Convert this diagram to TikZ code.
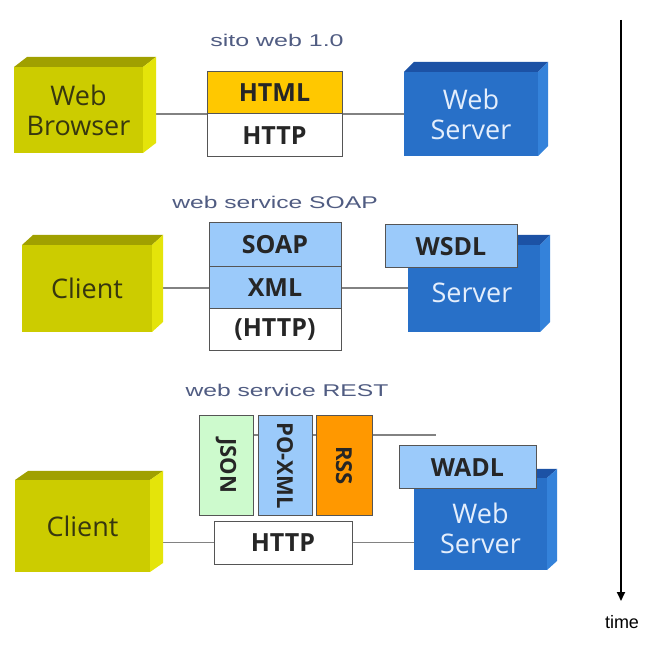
\documentclass[tikz,border=0pt]{standalone}
\usepackage{fontspec}
\usepackage{graphicx}
\newfontfamily\osans{Open Sans}
\newfontfamily\lsans{Liberation Sans}
\usetikzlibrary{arrows.meta,backgrounds}
\definecolor{yfront}{RGB}{204,204,0}
\definecolor{ytop}{RGB}{160,160,0}
\definecolor{yside}{RGB}{228,228,10}
\definecolor{bfront}{RGB}{40,112,200}
\definecolor{btop}{RGB}{28,82,165}
\definecolor{bside}{RGB}{52,130,218}
\definecolor{gold}{RGB}{255,200,0}
\definecolor{lblue}{RGB}{155,202,250}
\definecolor{lgreen}{RGB}{205,250,205}
\definecolor{orng}{RGB}{255,152,0}
\definecolor{edgecol}{RGB}{85,85,85}
\definecolor{conncol}{RGB}{130,130,130}
\definecolor{titlecol}{RGB}{80,92,130}
\definecolor{ytext}{RGB}{55,55,15}
\definecolor{btext}{RGB}{228,238,252}
\tikzset{
  cubefront/.style={inner sep=0, outer sep=0, draw=none, font=\osans\fontsize{27}{30}\selectfont, align=center},
  ycube/.style={cubefront, fill=yfront, text=ytext},
  bcube/.style={cubefront, fill=bfront, text=btext},
  layerbox/.style={draw=edgecol, line width=1pt, inner sep=0, outer sep=0, font=\osans\bfseries\fontsize{25}{28}\selectfont, text=black!85},
  vlayer/.style={layerbox, rotate=-90, font=\osans\bfseries\fontsize{22}{26}\selectfont},
  conn/.style={draw=conncol, line width=1.6pt},
  titletext/.style={font=\lsans\fontsize{17}{20}\selectfont, text=titlecol},
}
\newcommand\cubefaces[5]{%
  \fill[#4] (#1.north west) -- ++(#2,-#3) -- ([shift={(#2,-#3)}]#1.north east) -- (#1.north east) -- cycle;
  \fill[#5] (#1.north east) -- ++(#2,-#3) -- ([shift={(#2,-#3)}]#1.south east) -- (#1.south east) -- cycle;
}
\begin{document}
\begin{tikzpicture}[x=1pt,y=-1pt]
\useasboundingbox (0,0) rectangle (657,647);
\begin{scope}[on background layer]
  \fill[white] (0,0) rectangle (657,647);
\end{scope}

% ---------- row 1 ----------
\node[titletext] (title1) at (277,40) {\scalebox{1.47}[1]{sito web 1.0}};
\node[ycube, minimum width=129, minimum height=86] (wb) at (78.5,110) {Web\\Browser};
\cubefaces{wb}{13}{10}{ytop}{yside}
\node[layerbox, fill=gold, minimum width=135, minimum height=42] (html) at (274.5,93) {HTML};
\node[layerbox, fill=white, minimum width=135, minimum height=43, anchor=north] (http1) at (html.south) {HTTP};
\node[bcube, minimum width=134, minimum height=84] (ws1) at (471,114) {Web\\Server};
\cubefaces{ws1}{10}{10}{btop}{bside}

% ---------- row 2 ----------
\node[titletext] (title2) at (275,202) {\scalebox{1.45}[1]{web service SOAP}};
\node[ycube, minimum width=130, minimum height=87] (cl2) at (87,288.5) {Client};
\cubefaces{cl2}{11}{10}{ytop}{yside}
\node[layerbox, fill=lblue, minimum width=132, minimum height=44] (soap) at (275,245) {SOAP};
\node[layerbox, fill=lblue, minimum width=132, minimum height=42, anchor=north] (xml) at (soap.south) {XML};
\node[layerbox, fill=white, minimum width=132, minimum height=42, anchor=north] (http2) at (xml.south) {(HTTP)};
\node[bcube, minimum width=132, minimum height=87] (sv2) at (474,288.5) {};
\cubefaces{sv2}{10}{10}{btop}{bside}
\node[cubefront, text=btext] (sv2l) at ([xshift=-2,yshift=-4]sv2.center) {Server};
\node[layerbox, fill=lblue, minimum width=132, minimum height=43] (wsdl) at (451,246.5) {WSDL};

% ---------- row 3 ----------
\node[titletext] (title3) at (287,390) {\scalebox{1.45}[1]{web service REST}};
\node[ycube, minimum width=135, minimum height=92] (cl3) at (82.5,526) {Client};
\cubefaces{cl3}{13}{9}{ytop}{yside}
\node[vlayer, fill=lgreen, minimum width=99, minimum height=54] (json) at (226,465.5) {JSON};
\node[vlayer, fill=lblue, minimum width=99, minimum height=54] (poxml) at (285,465.5) {PO-XML};
\node[vlayer, fill=orng, minimum width=99, minimum height=56] (rss) at (344,465.5) {RSS};
\node[layerbox, fill=white, minimum width=138, minimum height=43] (http3) at (283,542.5) {HTTP};
\node[bcube, minimum width=133, minimum height=92] (ws3) at (480.5,524) {};
\cubefaces{ws3}{10}{9}{btop}{bside}
\node[cubefront, text=btext] (ws3l) at ([yshift=-4]ws3.center) {Web\\Server};
\node[layerbox, fill=lblue, minimum width=137, minimum height=43] (wadl) at (467.5,467.5) {WADL};
\coordinate (restend) at (436,435);

% ---------- connectors ----------
\begin{scope}[on background layer]
  \draw[conn] (wb.east |- http1.north) -- (ws1.west |- http1.north);
  \draw[conn] (cl2.east |- xml.center) -- (xml.west);
  \draw[conn] (xml.east) -- (sv2.west |- xml.center);
  \draw[conn] ([yshift=30.5]json.center) -- (restend);
  \draw[conn] (cl3.east |- http3.center) -- (http3.west);
  \draw[conn] (http3.east) -- (ws3.west |- http3.center);
\end{scope}

% ---------- time axis ----------
\coordinate (tstart) at (621,20);
\coordinate (tend) at (621,601);
\draw[line width=1.8pt, -{Triangle[width=8pt,length=9pt]}] (tstart) -- (tend);
\node[font=\lsans\fontsize{18}{20}\selectfont] (timelabel) at (622,622) {time};
\end{tikzpicture}
\end{document}
